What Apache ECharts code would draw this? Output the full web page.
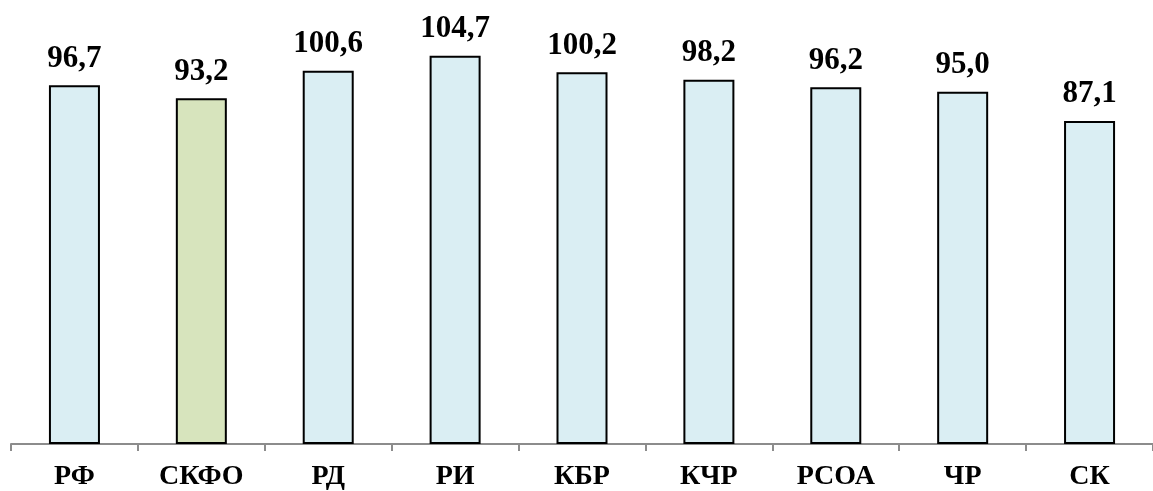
<!DOCTYPE html>
<html><head><meta charset="utf-8">
<script src="https://cdn.jsdelivr.net/npm/echarts@6/dist/echarts.min.js"></script>
<style>html,body{margin:0;padding:0;background:#fff;overflow:hidden}#c{width:1153px;height:491px}</style>
</head><body><div id="c"></div>
<script>
const categories = ['РФ','СКФО','РД','РИ','КБР','КЧР','РСОА','ЧР','СК'];
const values = [96.7, 93.2, 100.6, 104.7, 100.2, 98.2, 96.2, 95.0, 87.1];
const highlight = 'СКФО';

const chart = echarts.init(document.getElementById('c'));
chart.setOption({
  animation: false,
  grid: {left: 11, top: 36, width: 1154, height: 413, containLabel: false},
  xAxis: {
    type: 'category', data: categories,
    axisLine: {lineStyle: {color: '#8c8c8c', width: 2}},
    axisTick: {show: true, length: 7, lineStyle: {color: '#8c8c8c', width: 2}},
    axisLabel: {margin: 19, color: '#000', fontFamily: 'Liberation Serif', fontWeight: 'bold', fontSize: 28}
  },
  yAxis: {type: 'value', min: 0, max: 110, show: false, splitLine: {show: false}},
  series: [{
    type: 'bar', barWidth: 51,
    data: values.map((v, i) => ({value: v, itemStyle: {color: categories[i] === highlight ? '#D7E4BD' : '#DAEEF3'}})),
    itemStyle: {borderColor: '#000', borderWidth: 2},
    label: {show: true, position: 'top', distance: 11, color: '#000', fontFamily: 'Liberation Serif', fontWeight: 'bold', fontSize: 31,
      formatter: p => p.value.toFixed(1).replace('.', ',')}
  }]
});
</script></body></html>
